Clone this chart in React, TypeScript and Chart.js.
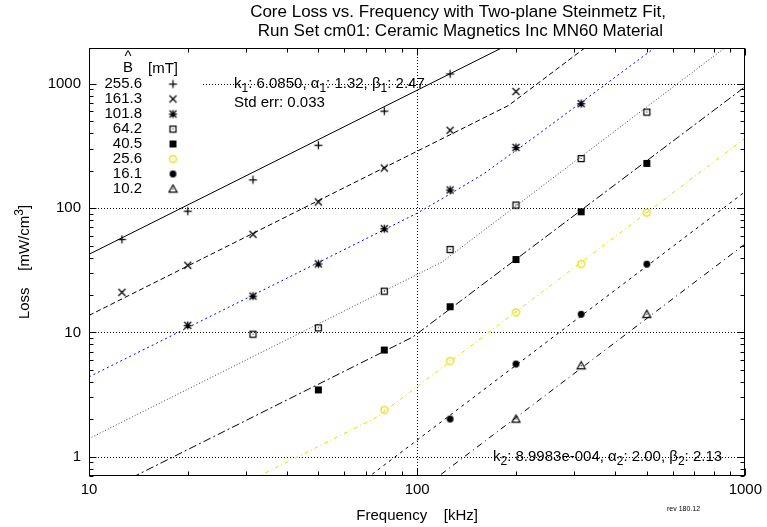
import React, { useEffect, useRef } from 'react';
import { Chart, registerables } from 'chart.js';

Chart.register(...registerables);

const FONT = '"Liberation Sans", Arial, Helvetica, sans-serif';

const titleLines = [
  'Core Loss vs. Frequency with Two-plane Steinmetz Fit,',
  ' Run Set cm01: Ceramic Magnetics Inc MN60 Material',
];
const xTicks = [10, 100, 1000];
const yTicks = [1, 10, 100, 1000];
const fluxLabels = ['255.6', '161.3', '101.8', '64.2', '40.5', '25.6', '16.1', '10.2'];

// measured points: [frequency kHz, loss mW/cm3]
const meas255 = [[12.6, 56.1], [20, 94.6], [31.6, 169], [50, 321], [79.4, 604], [126, 1202]];
const meas161 = [[12.6, 21.0], [20, 34.7], [31.6, 61.5], [50, 112], [79.4, 210], [126, 423], [200, 867]];
const meas102 = [[20, 11.4], [31.6, 19.6], [50, 35.6], [79.4, 68.3], [126, 140], [200, 308], [316, 692]];
const meas64 = [[31.6, 9.7], [50, 10.9], [79.4, 21.5], [126, 46.6], [200, 106], [316, 251], [501, 593]];
const meas40 = [[50, 3.45], [79.4, 7.22], [126, 16.1], [200, 38.6], [316, 93.4], [501, 229]];
const meas26 = [[79.4, 2.38], [126, 5.9], [200, 14.5], [316, 35.6], [501, 92.2]];
const meas16 = [[126, 2.01], [200, 5.57], [316, 14.0], [501, 35.4]];
const meas10 = [[200, 2.01], [316, 5.4], [501, 14.0]];

// fitted curves: [frequency kHz, loss mW/cm3]
const fit255 = [[10, 42.5], [200, 2217]];
const fit161 = [[10, 13.7], [190, 670], [350, 2262]];
const fit102 = [[10, 4.39], [100, 91], [126, 130], [160, 190], [234, 393], [560, 2173]];
const fit64 = [[10, 1.4], [119, 36.8], [900, 2103]];
const fit40 = [[10, 0.457], [97, 9.19], [1000, 950]];
const fit26 = [[30, 0.616], [75.3, 2.08], [1000, 366]];
const fit16 = [[60, 0.49], [1000, 136]];
const fit10 = [[100, 0.516], [1000, 51.6]];

const seriesDefs = [
  { label: fluxLabels[0], meas: meas255, fit: fit255, marker: 'plus', color: '#000000', mcolor: '#000000', dash: [] as number[] },
  { label: fluxLabels[1], meas: meas161, fit: fit161, marker: 'cross', color: '#000000', mcolor: '#000000', dash: [5, 3] },
  { label: fluxLabels[2], meas: meas102, fit: fit102, marker: 'star', color: '#0000ff', mcolor: '#000000', dash: [2, 3] },
  { label: fluxLabels[3], meas: meas64, fit: fit64, marker: 'box', color: '#444444', mcolor: '#000000', dash: [1, 2] },
  { label: fluxLabels[4], meas: meas40, fit: fit40, marker: 'fbox', color: '#000000', mcolor: '#000000', dash: [8, 3, 2, 3] },
  { label: fluxLabels[5], meas: meas26, fit: fit26, marker: 'circle', color: '#e0e000', mcolor: '#e0e000', dash: [4, 3, 1, 3] },
  { label: fluxLabels[6], meas: meas16, fit: fit16, marker: 'fcircle', color: '#000000', mcolor: '#000000', dash: [3, 4] },
  { label: fluxLabels[7], meas: meas10, fit: fit10, marker: 'triangle', color: '#000000', mcolor: '#000000', dash: [6, 4, 1, 4] },
];

function makeMarker(kind: string, markerColor: string): HTMLCanvasElement {
  const c = document.createElement('canvas');
  c.width = 11;
  c.height = 11;
  const g = c.getContext('2d')!;
  g.strokeStyle = markerColor;
  g.fillStyle = markerColor;
  g.lineWidth = 1.25;
  const dot = () => g.fillRect(5, 5, 1, 1);
  g.beginPath();
  if (kind === 'plus' || kind === 'star') {
    g.moveTo(1.5, 5.5); g.lineTo(9.5, 5.5);
    g.moveTo(5.5, 1.5); g.lineTo(5.5, 9.5);
  }
  if (kind === 'cross' || kind === 'star') {
    g.moveTo(2, 2); g.lineTo(9, 9);
    g.moveTo(9, 2); g.lineTo(2, 9);
  }
  if (kind === 'box') {
    g.rect(2.5, 2.5, 6, 6);
  }
  if (kind === 'circle') {
    g.arc(5.5, 5.5, 3.5, 0, Math.PI * 2);
  }
  if (kind === 'triangle') {
    g.moveTo(5.5, 1.5); g.lineTo(9.5, 8.5); g.lineTo(1.5, 8.5); g.closePath();
  }
  g.stroke();
  if (kind === 'box' || kind === 'circle' || kind === 'triangle') dot();
  if (kind === 'fbox') g.fillRect(2, 2, 7, 7);
  if (kind === 'fcircle') {
    g.beginPath(); g.arc(5.5, 5.5, 3.4, 0, Math.PI * 2); g.fill();
  }
  return c;
}

type Seg = [string, number];

function drawRich(ctx: CanvasRenderingContext2D, segs: Seg[], x: number, y: number, size: number, align: string) {
  const small = Math.round(size * 0.8);
  let w = 0;
  for (const [t, k] of segs) {
    ctx.font = `${k ? small : size}px ${FONT}`;
    w += ctx.measureText(t).width;
  }
  let cx = align === 'center' ? x - w / 2 : align === 'right' ? x - w : x;
  ctx.textAlign = 'left';
  ctx.textBaseline = 'middle';
  for (const [t, k] of segs) {
    ctx.font = `${k ? small : size}px ${FONT}`;
    const dy = k === 1 ? size * 0.3 : k === 2 ? -size * 0.35 : 0;
    ctx.fillText(t, cx, y + dy);
    cx += ctx.measureText(t).width;
  }
}

export default function App() {
  const ref = useRef<HTMLCanvasElement>(null);

  useEffect(() => {
    if (!ref.current) return;
    const markers = seriesDefs.map((s) => makeMarker(s.marker, s.mcolor));

    const datasets: any[] = [];
    seriesDefs.forEach((s, i) => {
      datasets.push({
        label: s.label + ' data',
        data: s.meas.map(([f, p]) => ({ x: f, y: p })),
        showLine: false,
        pointStyle: markers[i],
        pointRadius: 4,
        order: 0,
      });
    });
    seriesDefs.forEach((s) => {
      datasets.push({
        label: s.label + ' fit',
        data: s.fit.map(([f, p]) => ({ x: f, y: p })),
        showLine: true,
        borderColor: s.color,
        borderWidth: 1,
        borderDash: s.dash,
        pointRadius: 0,
        fill: false,
        tension: 0,
        order: 1,
      });
    });

    const decor = {
      id: 'decor',
      beforeDatasetsDraw(chart: any) {
        const { ctx, chartArea: a, scales } = chart;
        const xs = scales.x, ys = scales.y;
        ctx.save();
        ctx.strokeStyle = '#000';
        ctx.lineWidth = 1;
        ctx.setLineDash([1, 2]);
        ctx.beginPath();
        for (const v of yTicks) {
          const py = Math.round(ys.getPixelForValue(v)) + 0.5;
          if (py > a.top + 2 && py < a.bottom - 2) { ctx.moveTo(a.left, py); ctx.lineTo(a.right, py); }
        }
        for (const v of xTicks) {
          const px = Math.round(xs.getPixelForValue(v)) + 0.5;
          if (px > a.left + 2 && px < a.right - 2) { ctx.moveTo(px, a.top); ctx.lineTo(px, a.bottom); }
        }
        ctx.stroke();
        ctx.setLineDash([]);
        // opaque key box
        ctx.fillStyle = '#fff';
        ctx.fillRect(a.left + 1, a.top + 1, 113, 150);
        ctx.restore();
      },
      afterDatasetsDraw(chart: any) {
        const { ctx, chartArea: a, scales } = chart;
        const xs = scales.x, ys = scales.y;
        ctx.save();
        ctx.strokeStyle = '#000';
        ctx.lineWidth = 1;
        ctx.setLineDash([]);
        ctx.beginPath();
        const L = Math.round(a.left) + 0.5, R = Math.round(a.right) - 0.5;
        const T = Math.round(a.top) + 0.5, B = Math.round(a.bottom) - 0.5;
        for (let k = -1; k <= 3; k++) {
          for (let m = 1; m <= 9; m++) {
            const v = m * Math.pow(10, k);
            if (v < ys.min || v > ys.max) continue;
            const py = Math.round(ys.getPixelForValue(v)) + 0.5;
            const len = m === 1 ? 7 : 4;
            ctx.moveTo(L, py); ctx.lineTo(L + len, py);
            ctx.moveTo(R, py); ctx.lineTo(R - len, py);
          }
        }
        for (let k = 1; k <= 3; k++) {
          for (let m = 1; m <= 9; m++) {
            const v = m * Math.pow(10, k);
            if (v < xs.min || v > xs.max) continue;
            const px = Math.round(xs.getPixelForValue(v)) + 0.5;
            const len = m === 1 ? 7 : 4;
            ctx.moveTo(px, B); ctx.lineTo(px, B - len);
            ctx.moveTo(px, T); ctx.lineTo(px, T + len);
          }
        }
        ctx.stroke();
        ctx.strokeRect(L, T, R - L, B - T);

        ctx.fillStyle = '#000';
        // title
        ctx.font = `17px ${FONT}`;
        ctx.textAlign = 'center';
        ctx.textBaseline = 'middle';
        ctx.fillText(titleLines[0], 458, 12);
        ctx.fillText(titleLines[1], 458, 31);

        // axis titles
        const cxPlot = (a.left + a.right) / 2;
        ctx.font = `15px ${FONT}`;
        ctx.fillText('Frequency    [kHz]', cxPlot, 516);
        ctx.save();
        ctx.translate(25, (a.top + a.bottom) / 2);
        ctx.rotate(-Math.PI / 2);
        drawRich(ctx, [['Loss    [mW/cm', 0], ['3', 2], [']', 0]], 0, 0, 15, 'center');
        ctx.restore();

        // fit annotations
        drawRich(ctx, [['k', 0], ['1', 1], [': 6.0850, ', 0], ['\u03b1', 0], ['1', 1], [': 1.32, ', 0], ['\u03b2', 0], ['1', 1], [': 2.47', 0]], 234, 84, 15, 'left');
        drawRich(ctx, [['Std err: 0.033', 0]], 234, 103, 15, 'left');
        drawRich(ctx, [['k', 0], ['2', 1], [': 8.9983e-004, ', 0], ['\u03b1', 0], ['2', 1], [': 2.00, ', 0], ['\u03b2', 0], ['2', 1], [': 2.13', 0]], 493, 457, 15, 'left');

        // key
        ctx.font = `15px ${FONT}`;
        ctx.textAlign = 'center';
        ctx.fillText('^', 128, 57);
        ctx.fillText('B', 128, 68);
        ctx.textAlign = 'left';
        ctx.fillText('[mT]', 148, 69);
        ctx.textAlign = 'right';
        fluxLabels.forEach((lab, i) => {
          const ry = 84 + i * 15;
          ctx.fillText(lab, 142, ry);
          const mk = markers[i];
          ctx.drawImage(mk, 173 - mk.width / 2, ry - mk.height / 2);
        });

        // revision stamp
        ctx.font = `7px ${FONT}`;
        ctx.textAlign = 'left';
        ctx.fillText('rev 180.12', 667, 509);
        ctx.restore();
      },
    };

    const chart = new Chart(ref.current, {
      type: 'scatter',
      data: { datasets },
      options: {
        animation: false,
        responsive: false,
        devicePixelRatio: 1,
        layout: { padding: { left: 0, right: 20, top: 48, bottom: 0 } },
        plugins: { legend: { display: false }, tooltip: { enabled: false }, title: { display: false } },
        scales: {
          x: {
            type: 'logarithmic',
            position: 'bottom',
            min: 10,
            max: 1000,
            grid: { display: false, drawTicks: false },
            border: { display: false },
            ticks: {
              color: '#000',
              font: { family: FONT, size: 15 },
              padding: 5,
              autoSkip: false,
              maxRotation: 0,
              callback: (v: any) => String(v),
            },
            afterBuildTicks: (s: any) => { s.ticks = xTicks.map((v) => ({ value: v })); },
            afterFit: (s: any) => { s.height = 51; },
          },
          y: {
            type: 'logarithmic',
            position: 'left',
            min: 0.735,
            max: 1941,
            grid: { display: false, drawTicks: false },
            border: { display: false },
            ticks: {
              color: '#000',
              font: { family: FONT, size: 15 },
              padding: 8,
              autoSkip: false,
              callback: (v: any) => String(v),
            },
            afterBuildTicks: (s: any) => { s.ticks = yTicks.map((v) => ({ value: v })); },
            afterFit: (s: any) => { s.width = 89; },
          },
        },
      } as any,
      plugins: [decor],
    });
    return () => chart.destroy();
  }, []);

  return (
    <div style={{ position: 'absolute', left: 0, top: 0, width: 767, height: 527, background: '#fff' }}>
      <canvas ref={ref} width={767} height={527} style={{ display: 'block' }} />
    </div>
  );
}
